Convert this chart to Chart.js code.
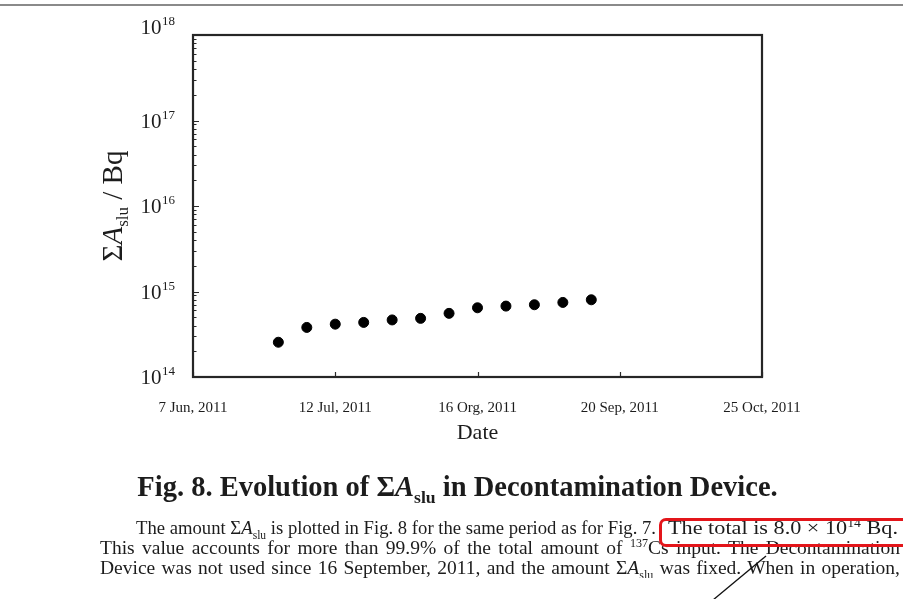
<!DOCTYPE html>
<html>
<head>
<meta charset="utf-8">
<script src="https://cdn.jsdelivr.net/npm/chart.js@4/dist/chart.umd.min.js"></script>
<style>
  html, body { margin: 0; padding: 0; background: #fff; }
  #page { position: relative; width: 903px; height: 599px; overflow: hidden;
          font-family: "Liberation Serif", "Times New Roman", serif; color: #1c1c1c; }
  #page canvas { position: absolute; left: 0; top: 0; }
  .rule-top { position: absolute; left: 0; top: 4px; width: 903px; height: 2px; background: #8a8a8a; }
  .caption { position: absolute; left: 0; top: 470px; width: 915px; text-align: center;
             font-weight: bold; font-size: 28.5px; line-height: 34px; }
  .line { position: absolute; font-size: 19.5px; line-height: 20px; height: 20px; overflow: hidden;
          text-align: justify; text-align-last: justify; }
  .fit { position: absolute; font-size: 19.5px; line-height: 20px; white-space: nowrap;
         transform-origin: 0 0; }
  sub, sup { font-size: 62%; line-height: 0; }
  .box { position: absolute; left: 659px; top: 518px; width: 270px; height: 23px;
         border: 3px solid #e3151a; border-radius: 7px; }
  svg.pen { position: absolute; left: 0; top: 0; }
</style>
</head>
<body>
<div id="page">
  <canvas id="chart" width="903" height="599"></canvas>
  <div class="rule-top"></div>
  <div class="caption">Fig. 8. Evolution of Σ<i>A</i><sub>slu</sub> in Decontamination Device.</div>
  <span class="fit" data-w="520" style="left:136px;top:518px;">The amount Σ<i>A</i><sub>slu</sub> is plotted in Fig. 8 for the same period as for Fig. 7.</span>
  <span class="fit" data-w="230" style="left:668px;top:518px;">The total is 8.0 × 10<sup>14</sup> Bq.</span>
  <div class="line" style="left:100px;top:538px;width:800px;">This value accounts for more than 99.9% of the total amount of <sup>137</sup>Cs input. The Decontamination</div>
  <div class="line" style="left:100px;top:558px;width:800px;">Device was not used since 16 September, 2011, and the amount Σ<i>A</i><sub>slu</sub> was fixed. When in operation,</div>
  <div class="box"></div>
  <svg class="pen" width="903" height="599"><line x1="713" y1="600" x2="766" y2="556" stroke="#111" stroke-width="1.3"/></svg>
</div>
<script>
// Days counted from 7 Jun 2011
const sampleDays = [21, 28, 35, 42, 49, 56, 63, 70, 77, 84, 91, 98];
// Cumulative activity in the device, Bq
const activityBq = [2.55e14, 3.8e14, 4.15e14, 4.35e14, 4.65e14, 4.85e14, 5.55e14, 6.45e14, 6.75e14, 7.0e14, 7.45e14, 8.0e14];
// Axis tick positions and their labels
const dayTicks = [0, 35, 70, 105, 140];
const dateLabels = ['7 Jun, 2011', '12 Jul, 2011', '16 Org, 2011', '20 Sep, 2011', '25 Oct, 2011'];
const decades = [14, 15, 16, 17, 18];

const SERIF = '"Liberation Serif", "Times New Roman", serif';
const INK = '#1c1c1c';

// squeeze or stretch single-line text runs to their column width
document.querySelectorAll('.fit').forEach(el => {
  const target = parseFloat(el.dataset.w);
  const w = el.getBoundingClientRect().width;
  if (w > 0) el.style.transform = 'scaleX(' + (target / w) + ')';
});

const framePlugin = {
  id: 'frameAndLogAxis',
  beforeDatasetsDraw(chart) {
    const { ctx, chartArea: a, scales } = chart;
    const y = scales.y, x = scales.x;
    ctx.save();
    ctx.strokeStyle = '#2a2a2a';
    ctx.lineWidth = 1.2;
    // inward minor/major ticks on the log axis
    ctx.beginPath();
    for (let d = decades[0]; d < decades[decades.length - 1]; d++) {
      for (let m = 1; m <= 9; m++) {
        const py = Math.round(y.getPixelForValue(m * Math.pow(10, d))) + 0.5;
        const len = m === 1 ? 6 : 3.5;
        ctx.moveTo(a.left, py); ctx.lineTo(a.left + len, py);
      }
    }
    // inward ticks on the date axis
    dayTicks.forEach(v => {
      const px = Math.round(x.getPixelForValue(v)) + 0.5;
      ctx.moveTo(px, a.bottom); ctx.lineTo(px, a.bottom - 5);
    });
    ctx.stroke();
    // plot frame
    ctx.lineWidth = 2.2;
    ctx.strokeStyle = '#262626';
    ctx.strokeRect(a.left, a.top, a.right - a.left, a.bottom - a.top);
    ctx.restore();
  },
  afterDraw(chart) {
    const { ctx, chartArea: a, scales } = chart;
    const y = scales.y;
    ctx.save();
    ctx.fillStyle = INK;
    ctx.textBaseline = 'alphabetic';
    // power-of-ten labels with superscript exponents
    decades.forEach(d => {
      const py = y.getPixelForValue(Math.pow(10, d));
      const lift = d === 18 ? 8 : 0;
      const exp = String(d);
      ctx.font = '13px ' + SERIF;
      const ew = ctx.measureText(exp).width;
      const right = 175;
      ctx.textAlign = 'left';
      ctx.fillText(exp, right - ew, py - 2 - lift);
      ctx.font = '21px ' + SERIF;
      ctx.textAlign = 'right';
      ctx.fillText('10', right - ew - 0.5, py + 7 - lift);
    });
    // rotated axis title: ΣA_slu / Bq
    ctx.translate(112, (a.top + a.bottom) / 2);
    ctx.rotate(-Math.PI / 2);
    const parts = [
      { t: 'Σ', f: '29px ' + SERIF, dy: 0 },
      { t: 'A', f: 'italic 29px ' + SERIF, dy: 0 },
      { t: 'slu', f: '17px ' + SERIF, dy: 6 },
      { t: ' / Bq', f: '29px ' + SERIF, dy: 0 }
    ];
    let total = 0;
    parts.forEach(p => { ctx.font = p.f; p.w = ctx.measureText(p.t).width; total += p.w; });
    let cx = -total / 2;
    ctx.textAlign = 'left';
    parts.forEach(p => { ctx.font = p.f; ctx.fillText(p.t, cx, 10 + p.dy); cx += p.w; });
    ctx.restore();
  }
};

new Chart(document.getElementById('chart'), {
  type: 'scatter',
  data: {
    datasets: [{
      data: sampleDays.map((d, i) => ({ x: d, y: activityBq[i] })),
      backgroundColor: '#000',
      borderColor: '#000',
      pointRadius: 5,
      pointHoverRadius: 5,
      showLine: false
    }]
  },
  options: {
    responsive: false,
    animation: false,
    devicePixelRatio: 1,
    layout: { padding: { left: 193, right: 141, top: 35, bottom: 147 } },
    plugins: { legend: { display: false }, tooltip: { enabled: false } },
    scales: {
      x: {
        type: 'linear',
        min: dayTicks[0],
        max: dayTicks[dayTicks.length - 1],
        afterBuildTicks(scale) { scale.ticks = dayTicks.map(v => ({ value: v })); },
        afterFit(scale) { scale.height = 75; },
        grid: { display: false, drawTicks: false },
        border: { display: false },
        ticks: {
          autoSkip: false, maxRotation: 0, padding: 22,
          color: INK, font: { family: SERIF, size: 15 },
          callback: (v) => dateLabels[dayTicks.indexOf(v)]
        },
        title: { display: true, text: 'Date', color: INK, font: { family: SERIF, size: 22 }, padding: { top: 4, bottom: 6 } }
      },
      y: {
        type: 'logarithmic',
        display: false,
        min: Math.pow(10, decades[0]),
        max: Math.pow(10, decades[decades.length - 1])
      }
    }
  },
  plugins: [framePlugin]
});
</script>
</body>
</html>
